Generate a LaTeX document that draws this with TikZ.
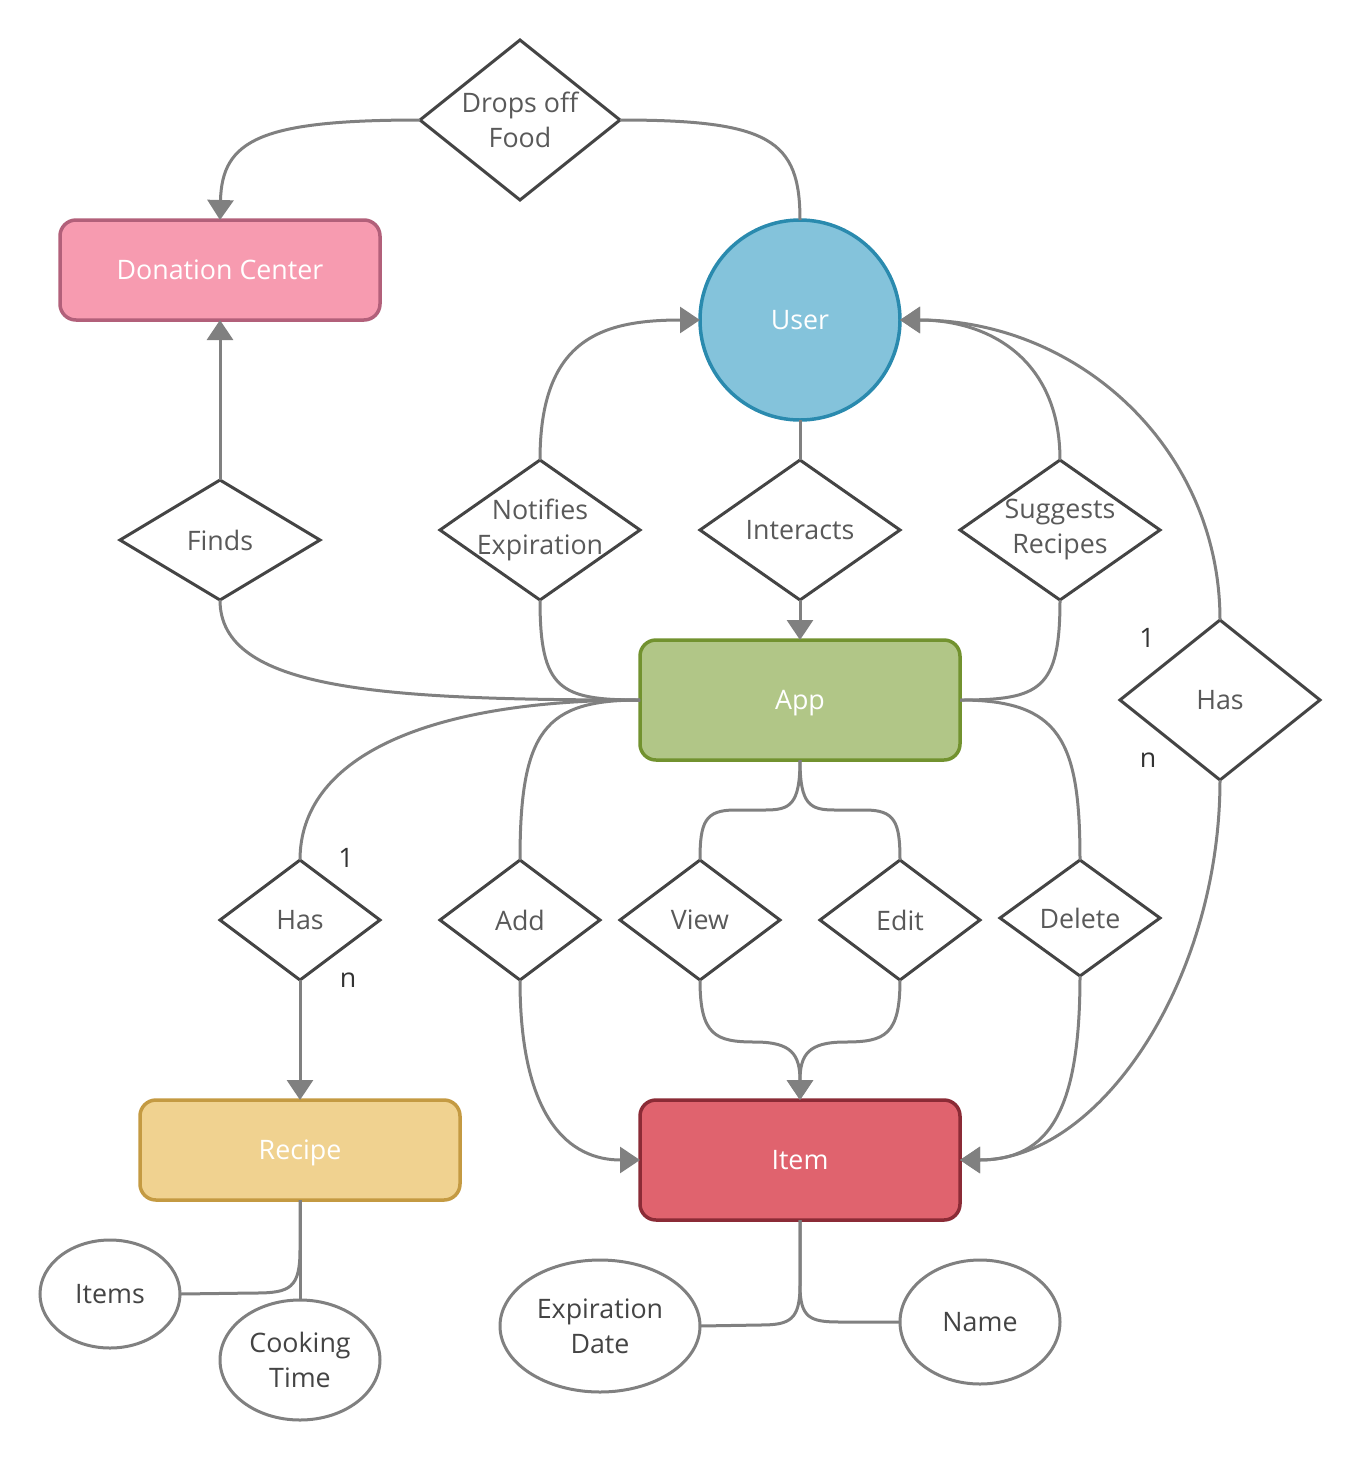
\documentclass[tikz,border=0pt]{standalone}
\usepackage{fontspec}
\setmainfont{Open Sans}
\usetikzlibrary{shapes.geometric,arrows.meta}
\definecolor{cgray}{HTML}{808080}
\definecolor{dgray}{HTML}{444444}
\definecolor{tgray}{HTML}{595959}
\definecolor{agray}{HTML}{444444}
\definecolor{pinkf}{HTML}{F79BB0}
\definecolor{pinkd}{HTML}{B2607A}
\definecolor{bluef}{HTML}{84C3DB}
\definecolor{blued}{HTML}{2A8AAE}
\definecolor{greenf}{HTML}{B1C687}
\definecolor{greend}{HTML}{72922F}
\definecolor{yellf}{HTML}{F0D290}
\definecolor{yelld}{HTML}{C49A42}
\definecolor{redf}{HTML}{E0636E}
\definecolor{redd}{HTML}{8B2B36}
\newcommand\dfs{\fontsize{26.8}{35}\selectfont}
\begin{document}
\begin{tikzpicture}[x=1pt,y=-1pt,
  font=\dfs,
  ent/.style={rectangle, rounded corners=16pt, minimum width=320pt, line width=3.5pt, text=white, outer sep=0pt, inner sep=0pt, text height=19pt, text depth=0pt},
  rel/.style={diamond, draw=dgray, line width=3pt, fill=white, inner sep=0pt, outer sep=0pt, minimum width=#1},
  rel/.default=200pt,
  rlab/.style={align=center, text=tgray},
  attr/.style={ellipse, draw=cgray, line width=3pt, fill=white, inner sep=0pt, outer sep=0pt, align=center, text=agray},
  conn/.style={draw=cgray, line width=3pt},
  arr/.style={conn, -{Triangle[width=26pt,length=20pt]}},
  card/.style={text=black!80}
]
\useasboundingbox (0,0) rectangle (1361,1460);

% entities
\node[ent, fill=pinkf, draw=pinkd, minimum height=100pt] (don) at (220,270) {Donation Center};
\node[circle, fill=bluef, draw=blued, line width=3.5pt, minimum size=200pt, inner sep=0pt, outer sep=0pt, text=white, text height=19pt, text depth=0pt] (user) at (800,320) {User};
\node[ent, fill=greenf, draw=greend, minimum height=120pt] (app) at (800,700) {App};
\node[ent, fill=yellf, draw=yelld, minimum height=100pt] (recipe) at (300,1150) {Recipe};
\node[ent, fill=redf, draw=redd, minimum height=120pt] (item) at (800,1160) {Item};

% relationships
\node[rel, minimum height=160pt, label={[rlab]center:Drops off\\Food}] (drops) at (520,120) {};
\node[rel, minimum height=120pt, label={[rlab]center:Finds}] (finds) at (220,540) {};
\node[rel, minimum height=140pt, label={[rlab]center:Notifies\\Expiration}] (notif) at (540,530) {};
\node[rel, minimum height=140pt, label={[rlab]center:Interacts}] (inter) at (800,530) {};
\node[rel, minimum height=140pt, label={[rlab]center:Suggests\\Recipes}] (sugg) at (1060,530) {};
\node[rel, minimum height=160pt, label={[rlab]center:Has}] (hasR) at (1220,700) {};
\node[rel=160pt, minimum height=120pt, label={[rlab]center:Has}] (hasL) at (300,920) {};
\node[rel=160pt, minimum height=120pt, label={[rlab]center:Add}] (add) at (520,920) {};
\node[rel=160pt, minimum height=120pt, label={[rlab]center:View}] (view) at (700,920) {};
\node[rel=160pt, minimum height=120pt, label={[rlab]center:Edit}] (edit) at (900,920) {};
\node[rel=160pt, minimum height=116pt, label={[rlab]center:Delete}] (del) at (1080,918) {};

% attributes
\node[attr, minimum width=140pt, minimum height=108pt] (items) at (110,1294) {Items};
\node[attr, minimum width=160pt, minimum height=120pt] (cook) at (300,1360) {Cooking\\Time};
\node[attr, minimum width=200pt, minimum height=132pt] (expd) at (600,1326) {Expiration\\Date};
\node[attr, minimum width=160pt, minimum height=124pt] (name) at (980,1322) {Name};

% cardinalities
\node[card] (c1r) at (1147,638) {1};
\node[card] (cnr) at (1148,760) {n};
\node[card] (c1l) at (346,858) {1};
\node[card] (cnl) at (348,980) {n};

% connectors
\draw[arr] (drops.west) .. controls (260,120) and (222,140) .. (don.north);
\draw[conn] (drops.east) .. controls (770,120) and (800,140) .. (user.north);
\draw[arr] (finds.north) -- (don.south);
\draw[conn] (finds.south) .. controls (220,690) and (380,700) .. (app.west);
\draw[conn] (notif.south) .. controls (540,690) and (560,700) .. (app.west);
\draw[arr] (notif.north) .. controls (540,340) and (600,320) .. (user.west);
\draw[conn] (inter.north) -- (user.south);
\draw[arr] (inter.south) -- (app.north);
\draw[arr] (sugg.north) .. controls (1060,360) and (990,320) .. (user.east);
\draw[conn] (sugg.south) .. controls (1060,690) and (1040,700) .. (app.east);
\draw[arr] (hasR.north) .. controls (1220,450) and (1080,320) .. (user.east);
\draw[arr] (hasR.south) .. controls (1220,980) and (1100,1160) .. (item.east);
\draw[conn] (app.west) .. controls (420,700) and (300,760) .. (hasL.north);
\draw[conn] (app.west) .. controls (545,700) and (520,730) .. (add.north);
\draw[conn] (app.south) .. controls (800,805) and (790,810) .. (765,810) -- (735,810) .. controls (705,810) and (700,822) .. (view.north);
\draw[conn] (app.south) .. controls (800,805) and (810,810) .. (835,810) -- (865,810) .. controls (895,810) and (900,822) .. (edit.north);
\draw[conn] (app.east) .. controls (1060,700) and (1080,740) .. (del.north);
\draw[arr] (hasL.south) -- (recipe.north);
\draw[arr] (add.south) .. controls (520,1120) and (570,1160) .. (item.west);
\draw[arr] (view.south) .. controls (700,1035) and (715,1042) .. (755,1042) .. controls (792,1042) and (800,1055) .. (item.north);
\draw[arr] (edit.south) .. controls (900,1035) and (885,1042) .. (845,1042) .. controls (808,1042) and (800,1055) .. (item.north);
\draw[arr] (del.south) .. controls (1080,1110) and (1050,1160) .. (item.east);
\draw[conn] (recipe.south) -- (300,1250) .. controls (300,1288) and (290,1293) .. (255,1293) -- (items.east);
\draw[conn] (recipe.south) -- (cook.north);
\draw[conn] (item.south) -- (800,1285) .. controls (800,1320) and (790,1325) .. (760,1325) -- (expd.east);
\draw[conn] (item.south) -- (800,1285) .. controls (800,1318) and (810,1322) .. (840,1322) -- (name.west);
\end{tikzpicture}
\end{document}
